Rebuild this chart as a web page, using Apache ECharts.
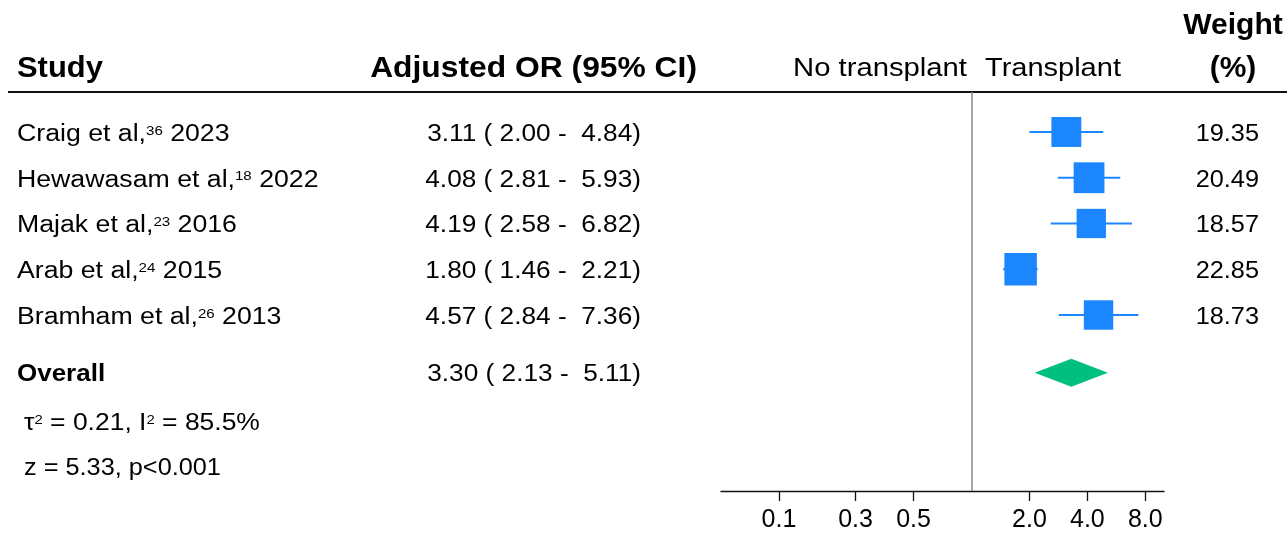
<!DOCTYPE html>
<html>
<head>
<meta charset="utf-8">
<script src="https://cdn.jsdelivr.net/npm/echarts@6/dist/echarts.min.js"></script>
<style>
  html, body { margin: 0; padding: 0; background: #fff; }
  #chart { width: 1287px; height: 537px; }
</style>
</head>
<body>
<div id="chart"></div>
<script>
// Forest plot: adjusted odds ratios, transplant vs no transplant
const studyNames = ['Craig et al,', 'Hewawasam et al,', 'Majak et al,', 'Arab et al,', 'Bramham et al,'];
const studyRefs = ['36', '18', '23', '24', '26'];
const studyYears = ['2023', '2022', '2016', '2015', '2013'];
const oddsRatio = [3.11, 4.08, 4.19, 1.80, 4.57];
const ciLower = [2.00, 2.81, 2.58, 1.46, 2.84];
const ciUpper = [4.84, 5.93, 6.82, 2.21, 7.36];
const weights = [19.35, 20.49, 18.57, 22.85, 18.73];

const overallOR = 3.30;
const overallLower = 2.13;
const overallUpper = 5.11;

const tau2 = '0.21';
const i2 = '85.5%';
const zValue = '5.33';
const pText = 'p<0.001';

// tick positions on the OR scale and the one-decimal labels printed under them
const tickValues = [0.1, 0.25, 0.5, 2, 4, 8];
const tickLabels = ['0.1', '0.3', '0.5', '2.0', '4.0', '8.0'];

const BLUE = '#1c86ff';
const GREEN = '#00bf7f';
const FONT = "'Liberation Sans', Arial, Helvetica, sans-serif";
const BODY = 23;
const HEAD = 30;
const DY = 2.5; // nudge so text sits on the marker centre line

// vertical layout (row units on the hidden y axis)
const studyRow = i => i + 1;
const overallRow = studyNames.length + 1.26;
const statRows = [studyNames.length + 2.32, studyNames.length + 3.30];

const fmt = v => v.toFixed(2);
const pad = v => (v < 10 ? ' ' : '') + fmt(v);
const ciText = (e, l, u) => fmt(e) + ' (' + pad(l) + ' - ' + pad(u) + ')';

const studyData = oddsRatio.map((v, i) => [v, ciLower[i], ciUpper[i], weights[i], studyRow(i)]);
const overallData = [[overallOR, overallLower, overallUpper, overallRow]];

const chart = echarts.init(document.getElementById('chart'), null, { renderer: 'canvas' });

chart.setOption({
  animation: false,
  backgroundColor: '#fff',
  grid: { left: 721, right: 123, top: 92, bottom: 46, containLabel: false },
  xAxis: {
    type: 'log',
    logBase: 10,
    min: 0.05,
    max: 10,
    axisLine: { show: true, lineStyle: { color: '#111', width: 1.3 } },
    axisTick: { show: true, length: 10, inside: false, customValues: tickValues, lineStyle: { color: '#111', width: 1.3 } },
    axisLabel: {
      show: true,
      customValues: tickValues,
      margin: 17,
      color: '#000',
      fontFamily: FONT,
      fontSize: 25,
      formatter: v => {
        const k = tickValues.findIndex(t => Math.abs(t - v) < 1e-9);
        return k >= 0 ? tickLabels[k] : '';
      }
    },
    splitLine: { show: false },
    minorTick: { show: false },
    minorSplitLine: { show: false }
  },
  yAxis: {
    type: 'value',
    inverse: true,
    min: 0.126,
    max: 8.847,
    show: false,
    splitLine: { show: false }
  },
  series: [
    {
      type: 'custom',
      name: 'studies',
      data: studyData,
      encode: { x: 0, y: 4 },
      clip: false,
      renderItem: (params, api) => {
        const row = api.value(4);
        const c = api.coord([api.value(0), row]);
        const l = api.coord([api.value(1), row]);
        const h = api.coord([api.value(2), row]);
        const s = 6.8 * Math.sqrt(api.value(3));
        return {
          type: 'group',
          children: [
            { type: 'line', shape: { x1: l[0], y1: l[1], x2: h[0], y2: h[1] }, style: { stroke: BLUE, lineWidth: 2 } },
            { type: 'rect', shape: { x: c[0] - s / 2, y: c[1] - s / 2, width: s, height: s }, style: { fill: BLUE } }
          ]
        };
      },
      markLine: {
        silent: true,
        symbol: ['none', 'none'],
        label: { show: false },
        lineStyle: { color: '#888', width: 1.5, type: 'solid' },
        data: [{ xAxis: 1 }]
      },
      z: 3
    },
    {
      type: 'custom',
      name: 'overall',
      data: overallData,
      encode: { x: 0, y: 3 },
      clip: false,
      renderItem: (params, api) => {
        const row = api.value(3);
        const c = api.coord([api.value(0), row]);
        const l = api.coord([api.value(1), row]);
        const h = api.coord([api.value(2), row]);
        const hh = 14;
        return {
          type: 'polygon',
          shape: { points: [[l[0], c[1]], [c[0], c[1] - hh], [h[0], c[1]], [c[0], c[1] + hh]] },
          style: { fill: GREEN }
        };
      },
      z: 3
    }
  ]
});

// table text laid out against the plot rows
const yOf = v => chart.convertToPixel({ yAxisIndex: 0 }, v) + DY;
const txt = (x, y, text, sx, opts) => ({
  type: 'text', x: x, y: y, scaleX: sx || 1,
  style: Object.assign({
    text: text, fill: '#000', font: BODY + 'px ' + FONT,
    textAlign: 'left', textVerticalAlign: 'middle'
  }, opts || {})
});
const richSup = {
  n: { fontSize: BODY, fontFamily: FONT, fill: '#000', lineHeight: 28 },
  s: { fontSize: 13, fontFamily: FONT, fill: '#000', lineHeight: 28, verticalAlign: 'top', padding: [4, 0, 0, 0] }
};

const elements = [];

// headers
const boldHead = 'bold ' + HEAD + 'px ' + FONT;
elements.push(txt(17, 69, 'Study', 1.03, { font: boldHead }));
elements.push(txt(697, 69, 'Adjusted OR (95% CI)', 1.06, { font: boldHead, textAlign: 'right' }));
elements.push(txt(967, 69, 'No transplant', 1.17, { font: '25px ' + FONT, textAlign: 'right' }));
elements.push(txt(985, 69, 'Transplant', 1.16, { font: '25px ' + FONT }));
elements.push(txt(1233, 26, 'Weight', 1, { font: boldHead, textAlign: 'center' }));
elements.push(txt(1233, 69, '(%)', 1, { font: boldHead, textAlign: 'center' }));
elements.push({ type: 'line', shape: { x1: 8, y1: 92, x2: 1287, y2: 92 }, style: { stroke: '#111', lineWidth: 2 } });

// study rows
studyNames.forEach((name, i) => {
  const y = yOf(studyRow(i));
  elements.push({
    type: 'text', x: 17, y: y, scaleX: 1.16,
    style: {
      text: '{n|' + name + '}{s|' + studyRefs[i] + '}{n| ' + studyYears[i] + '}',
      rich: richSup, textAlign: 'left', textVerticalAlign: 'middle'
    }
  });
  elements.push(txt(641, y, ciText(oddsRatio[i], ciLower[i], ciUpper[i]), 1.14, { textAlign: 'right' }));
  elements.push(txt(1259, y, fmt(weights[i]), 1.10, { textAlign: 'right' }));
});

// overall row
const yo = yOf(overallRow);
elements.push(txt(17, yo, 'Overall', 1.13, { font: 'bold ' + BODY + 'px ' + FONT }));
elements.push(txt(641, yo, ciText(overallOR, overallLower, overallUpper), 1.14, { textAlign: 'right' }));

// heterogeneity and test statistics
elements.push({
  type: 'text', x: 24, y: yOf(statRows[0]), scaleX: 1.15,
  style: {
    text: '{n|\u03c4}{s|2}{n| = ' + tau2 + ', I}{s|2}{n| = ' + i2 + '}',
    rich: richSup, textAlign: 'left', textVerticalAlign: 'middle'
  }
});
elements.push(txt(24, yOf(statRows[1]), 'z = ' + zValue + ', ' + pText, 1.10));

chart.setOption({ graphic: { elements: elements } });
</script>
</body>
</html>
